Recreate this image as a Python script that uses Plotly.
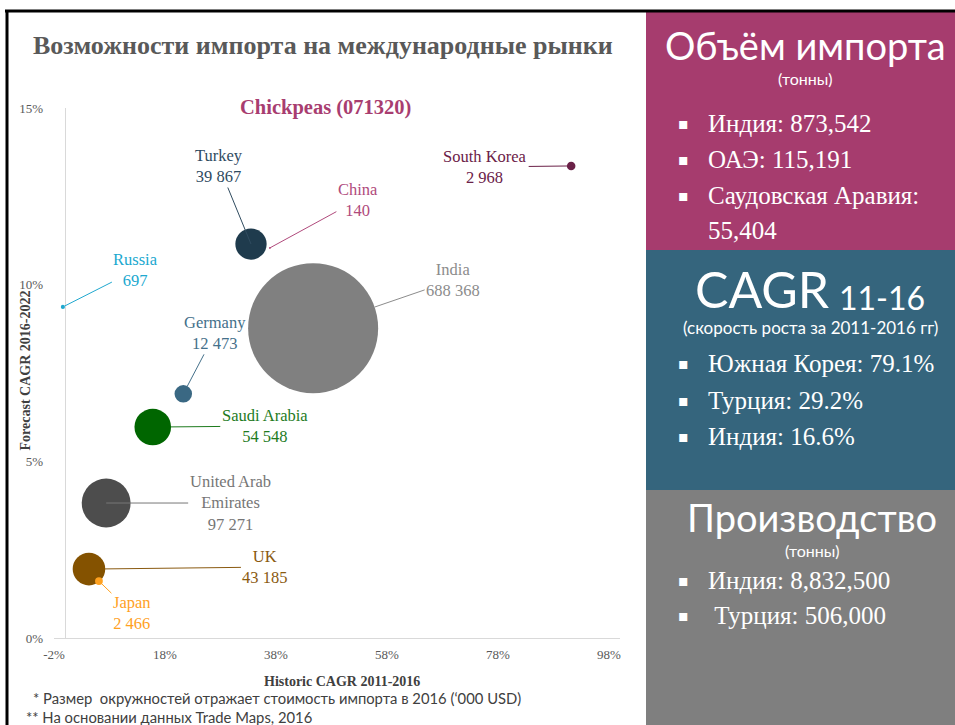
import plotly.graph_objects as go

# Chickpea import markets: historic vs forecast CAGR, bubble area = 2016 import value ('000 USD)
countries = ["India", "United Arab<br>Emirates", "Saudi Arabia", "UK", "Turkey", "Germany",
             "South Korea", "Japan", "Russia", "China"]
historic_cagr = [0.447, 0.074, 0.158, 0.043, 0.335, 0.213, 0.912, 0.061, -0.004, 0.369]
forecast_cagr = [0.0877, 0.0382, 0.0597, 0.0195, 0.1115, 0.0691, 0.1336, 0.0161, 0.0937, 0.1104]
import_value = [688368, 97271, 54548, 43185, 39867, 12473, 2968, 2466, 697, 140]

x_tick_vals = [-0.02, 0.18, 0.38, 0.58, 0.78, 0.98]
x_tick_text = ["-2%", "18%", "38%", "58%", "78%", "98%"]
y_tick_vals = [0, 0.05, 0.10, 0.15]
y_tick_text = ["0%", "5%", "10%", "15%"]

# Side panels
import_volume = [("Индия: 873,542", None), ("ОАЭ: 115,191", None), ("Саудовская Аравия:", "55,404")]
cagr_leaders = ["Южная Корея: 79.1%", "Турция: 29.2%", "Индия: 16.6%"]
production = ["Индия: 8,832,500", " Турция: 506,000"]

# Styling per country: bubble colour, label colour, label offset (px), arrow standoff (px)
style = {
    "India":                  ("#808080", "#8c8c8c", (140, -48), 65),
    "United Arab<br>Emirates": ("#4d4d4d", "#767676", (124, 0), 0),
    "Saudi Arabia":           ("#006600", "#1e7b1e", (112, -1), 18),
    "UK":                     ("#845200", "#8a5a10", (176, -2), 16),
    "Turkey":                 ("#1f3b4d", "#2f4b5f", (-32, -78), 0),
    "Germany":                ("#3a6883", "#44708a", (32, -61), 8),
    "South Korea":            ("#6b2148", "#6b2148", (-86, 1), 4),
    "Japan":                  ("#ffa11f", "#ffa11f", (33, 32), 3),
    "Russia":                 ("#20a8cf", "#20a8cf", (73, -37), 2),
    "China":                  ("#b04a7c", "#b04a7c", (88, -48), 0),
}

W, H = 955, 725
PLOT_L, PLOT_R, PLOT_T, PLOT_B = 54, 620, 108, 638
SERIF = "Liberation Serif"
SANS = "Lato"

max_diam = 130
sizeref = 2 * max(import_value) / max_diam ** 2

fig = go.Figure()
fig.add_trace(go.Scatter(
    x=historic_cagr, y=forecast_cagr, mode="markers",
    marker=dict(size=import_value, sizemode="area", sizeref=sizeref, sizemin=0,
                color=[style[c][0] for c in countries], line=dict(width=0), opacity=1),
    hoverinfo="skip", showlegend=False, cliponaxis=False,
))

annotations = []
for c, xv, yv, val in zip(countries, historic_cagr, forecast_cagr, import_value):
    bubble_col, text_col, (ax, ay), stand = style[c]
    annotations.append(dict(
        x=xv, y=yv, xref="x", yref="y",
        text=f"{c}<br>{val:,}".replace(",", " "),
        showarrow=True, arrowhead=0, arrowwidth=1, arrowcolor=text_col,
        ax=ax, ay=ay, standoff=stand,
        font=dict(family=SERIF, size=16.5, color=text_col), align="center",
    ))

def px(xp, yp):
    return xp / W, 1 - yp / H

def text_at(xp, yp, text, size, color, family, bold=False, xanchor="center", yanchor="middle"):
    x, y = px(xp, yp)
    annotations.append(dict(
        x=x, y=y, xref="paper", yref="paper", showarrow=False,
        text=f"<b>{text}</b>" if bold else text,
        xanchor=xanchor, yanchor=yanchor, borderpad=0,
        font=dict(family=family, size=size, color=color),
    ))

# Titles
text_at(323, 46, "Возможности импорта на международные рынки", 26, "#595959", SERIF, bold=True)
text_at(325, 108, "Chickpeas (071320)", 20.5, "#a83d70", SERIF, bold=True)
text_at(342, 681, "Historic CAGR 2011-2016", 14, "#404040", SERIF, bold=True)
xa, ya = px(16, 371)
annotations.append(dict(x=xa, y=ya, xref="paper", yref="paper", showarrow=False,
                        text="<b>Forecast CAGR 2016-2022</b>", textangle=-90,
                        font=dict(family=SERIF, size=14, color="#404040")))

# Footnotes
text_at(32, 698, "* Размер  окружностей отражает стоимость импорта в 2016 (‘000 USD)", 14.8, "#404040",
        SANS, xanchor="left")
text_at(25, 717, "** На основании данных Trade Maps, 2016", 14.8, "#404040", SANS, xanchor="left")

# Right-hand panels
shapes = []
panels = [(12, 250, "#a63c6e"), (250, 490, "#35657d"), (490, 725, "#7f7f7f")]
for top, bottom, col in panels:
    x0, y1 = px(646, top)
    x1, y0 = px(W, bottom)
    shapes.append(dict(type="rect", xref="paper", yref="paper", x0=x0, x1=x1, y0=y0, y1=y1,
                       fillcolor=col, line=dict(width=0), layer="below"))

# Outer frame (top and left black rules)
shapes.append(dict(type="line", xref="paper", yref="paper", x0=px(5, 0)[0], x1=1,
                   y0=px(0, 11)[1], y1=px(0, 11)[1], line=dict(color="#000000", width=3)))
shapes.append(dict(type="line", xref="paper", yref="paper", x0=px(7, 0)[0], x1=px(7, 0)[0],
                   y0=0, y1=px(0, 10)[1], line=dict(color="#000000", width=3)))

WHITE = "#ffffff"

def bullets(lines, y_start, step):
    y = y_start
    for line in lines:
        if isinstance(line, tuple):
            main, cont = line
        else:
            main, cont = line, None
        text_at(683, y, "▪", 16, WHITE, "DejaVu Sans")
        text_at(707, y, main, 25, WHITE, SERIF, xanchor="left")
        y += step
        if cont:
            text_at(707, y, cont, 25, WHITE, SERIF, xanchor="left")
            y += step

text_at(805, 45, "Объём импорта", 38, WHITE, SANS)
text_at(805, 79, "(тонны)", 16, WHITE, SANS)
bullets(import_volume, 124, 35.5)

text_at(762, 289, "CAGR", 50, WHITE, SANS)
text_at(882, 297, "11-16", 32, WHITE, SANS)
text_at(810, 327, "(скорость роста за 2011-2016 гг)", 17, WHITE, SANS)
bullets(cagr_leaders, 364, 36)

text_at(812, 517, "Производство", 38, WHITE, SANS)
text_at(812, 550, "(тонны)", 16, WHITE, SANS)
bullets(production, 580, 35)

fig.update_layout(
    width=W, height=H, margin=dict(l=0, r=0, t=0, b=0),
    paper_bgcolor="#ffffff", plot_bgcolor="rgba(0,0,0,0)",
    xaxis=dict(domain=[PLOT_L / W, PLOT_R / W], range=[-0.02, 1.0], automargin=False,
               tickvals=x_tick_vals, ticktext=x_tick_text,
               showgrid=False, zeroline=True, zerolinecolor="#d9d9d9", zerolinewidth=1,
               showline=True, linecolor="#d9d9d9", linewidth=1, ticks="",
               ticklabelstandoff=4,
               tickfont=dict(family=SERIF, size=13, color="#595959")),
    yaxis=dict(domain=[1 - PLOT_B / H, 1 - PLOT_T / H], range=[0, 0.15], automargin=False,
               tickvals=y_tick_vals, ticktext=y_tick_text,
               showgrid=False, zeroline=False, showline=False, ticks="",
               ticklabelstandoff=10,
               tickfont=dict(family=SERIF, size=13, color="#595959")),
    shapes=shapes, annotations=annotations,
)

fig.write_html("out.html")
